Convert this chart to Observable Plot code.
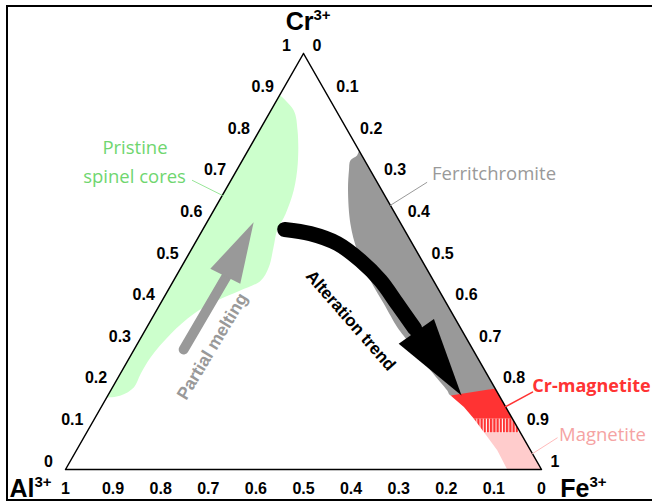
<!DOCTYPE html>
<html><head><meta charset="utf-8">
<script src="https://cdn.jsdelivr.net/npm/d3@7"></script>
<script src="https://cdn.jsdelivr.net/npm/@observablehq/plot@0.6"></script>
<style>
body{margin:0;background:#fff}
#wrap{position:relative;width:652px;height:504px;overflow:hidden;background:#fff}
#frame{position:absolute;left:6px;top:5px;width:700px;height:496px;border:2px solid #000;box-sizing:border-box;pointer-events:none}
svg{position:absolute;left:0;top:0}
</style>
</head><body><div id="wrap"><div id="frame"></div></div>
<script>
// Ternary points as [Cr, Fe]; Al = 1 - Cr - Fe
const triangle = [[1,0],[0,0],[0,1],[1,0]];
const tickValues = [0,0.1,0.2,0.3,0.4,0.5,0.6,0.7,0.8,0.9,1];

const pristineCores = [[0.900,0.000],[0.863,0.048],[0.815,0.080],[0.736,0.120],[0.671,0.144],[0.615,0.155],[0.575,0.157],[0.534,0.170],[0.486,0.184],[0.454,0.183],[0.430,0.152],[0.406,0.116],[0.374,0.082],[0.326,0.058],[0.270,0.044],[0.230,0.043],[0.198,0.045],[0.178,0.027],[0.173,0.000]];
const ferritchromite = [[0.767,0.233],[0.755,0.235],[0.743,0.227],[0.719,0.236],[0.671,0.258],[0.591,0.303],[0.526,0.350],[0.454,0.414],[0.399,0.469],[0.342,0.526],[0.322,0.549],[0.238,0.648],[0.190,0.707],[0.178,0.720],[0.195,0.805]];
const crMagnetite = [[0.178,0.720],[0.195,0.805],[0.122,0.878],[0.122,0.797],[0.150,0.762]];
const transition = [[0.122,0.797],[0.122,0.878],[0.089,0.911],[0.089,0.835]];
const magnetite = [[0.089,0.835],[0.089,0.911],[0,1],[0,0.928],[0.046,0.884]];

const alterationShaft = [[0.577,0.172],[0.567,0.231],[0.543,0.300],[0.502,0.369],[0.454,0.435],[0.398,0.498],[0.339,0.564]];
const alterationHead = [[0.302,0.549],[0.362,0.593],[0.178,0.743]];
const meltingShaft = [[0.2885,0.104],[0.464,0.106]];
const meltingHead = [[0.4825,0.063],[0.4464,0.144],[0.5945,0.098]];

const greenLeader = [[0.695,-0.081],[0.659,0.000]];
const grayLeader = [[0.690,0.414],[0.635,0.365]];
const redLeader = [[0.186,0.888],[0.151,0.849]];
const pinkLeader = [[0.076,0.995],[0.038,0.962]];

const pristineLabel = [[0.772,-0.240,"Pristine"],[0.704,-0.207,"spinel cores"]];
const ferriLabel = [[0.710,0.415,"Ferritchromite"]];
const crMagLabel = [[0.1995,0.881,"Cr-magnetite"]];
const magLabel = [[0.0837,0.995,"Magnetite"]];
const alterationLabel = [[0.358,0.420,"Alteration trend"]];
const meltingLabel = [[0.2957,0.161,"Partial melting"]];

const cornerLabels = ["Cr","Al","Fe"];
const cornerSup = "3+";

const X = d => d[1] + d[0] / 2;
const Y = d => d[0];
const fmt = v => String(v);

const leftTicks = tickValues.map(v => [v, 0, fmt(v)]);
const rightTicks = tickValues.map(v => [1 - v, v, fmt(v)]);
const bottomTicks = tickValues.map(v => [0, 1 - v, fmt(v)]);

const sans = "'Liberation Sans', Arial, sans-serif";
const soft = "'Open Sans', sans-serif";

const poly = (data, fill, curve="linear") => Plot.line(data, {x: X, y: Y, fill, stroke: "none", curve});
const leader = (data, stroke, w=1) => Plot.line(data, {x: X, y: Y, stroke, strokeWidth: w});
const label = (data, o) => Plot.text(data, {x: X, y: Y, text: d => d[2], ...o});

const chart = Plot.plot({
  width: 652, height: 504,
  marginLeft: 65, marginRight: 111, marginTop: 53, marginBottom: 35,
  x: {domain: [0, 1], axis: null},
  y: {domain: [0, 1], axis: null},
  style: {background: "transparent", overflow: "visible"},
  marks: [
    poly(pristineCores, "#ccffcc", "catmull-rom"),
    poly(ferritchromite, "#999999", "catmull-rom"),
    poly(crMagnetite, "#ff3333"),
    poly(transition, "url(#hatch)"),
    poly(magnetite, "#ffcccc"),
    Plot.line(triangle, {x: X, y: Y, stroke: "#000", strokeWidth: 1.5}),
    Plot.line(alterationShaft, {x: X, y: Y, stroke: "#000", strokeWidth: 15, strokeLinecap: "round", curve: "catmull-rom"}),
    poly(alterationHead, "#000"),
    Plot.line(meltingShaft, {x: X, y: Y, stroke: "#999999", strokeWidth: 10, strokeLinecap: "round"}),
    poly(meltingHead, "#999999"),
    leader(greenLeader, "#99e699"),
    leader(grayLeader, "#999999"),
    leader(redLeader, "#ff3333", 1.5),
    leader(pinkLeader, "#ffbbbb"),
    label(leftTicks, {fontFamily: sans, fontWeight: "bold", fontSize: 16, fill: "#000", dx: -17, dy: -8}),
    label(rightTicks, {fontFamily: sans, fontWeight: "bold", fontSize: 16, fill: "#000", textAnchor: "start", dx: 9, dy: -8}),
    label(bottomTicks, {fontFamily: sans, fontWeight: "bold", fontSize: 16, fill: "#000", dy: 19}),
    label(pristineLabel, {fontFamily: soft, fontSize: 18.5, fill: "#6fd66f"}),
    label(ferriLabel, {fontFamily: soft, fontSize: 18.5, fill: "#999999", textAnchor: "start"}),
    label(crMagLabel, {fontFamily: soft, fontSize: 18, fontWeight: "bold", fill: "#ff3333", textAnchor: "start"}),
    label(magLabel, {fontFamily: soft, fontSize: 18.5, fill: "#f5a3a3", textAnchor: "start"}),
    label(alterationLabel, {fontFamily: sans, fontSize: 17, fontWeight: "bold", fill: "#000", rotate: 49}),
    label(meltingLabel, {fontFamily: sans, fontSize: 17.5, fontWeight: "bold", fill: "#999999", rotate: -59}),
    // corner labels
    Plot.text([[1,0,cornerLabels[0]]], {x: X, y: Y, text: d => d[2], fontFamily: sans, fontWeight: "bold", fontSize: 25, textAnchor: "end", dx: 10, dy: -32}),
    Plot.text([[1,0,cornerSup]], {x: X, y: Y, text: d => d[2], fontFamily: sans, fontWeight: "bold", fontSize: 15, textAnchor: "start", dx: 10, dy: -38}),
    Plot.text([[0,0,cornerLabels[1]]], {x: X, y: Y, text: d => d[2], fontFamily: sans, fontWeight: "bold", fontSize: 25, textAnchor: "end", dx: -31, dy: 19}),
    Plot.text([[0,0,cornerSup]], {x: X, y: Y, text: d => d[2], fontFamily: sans, fontWeight: "bold", fontSize: 15, textAnchor: "start", dx: -31, dy: 13}),
    Plot.text([[0,1,cornerLabels[2]]], {x: X, y: Y, text: d => d[2], fontFamily: sans, fontWeight: "bold", fontSize: 25, textAnchor: "end", dx: 48, dy: 19}),
    Plot.text([[0,1,cornerSup]], {x: X, y: Y, text: d => d[2], fontFamily: sans, fontWeight: "bold", fontSize: 15, textAnchor: "start", dx: 48, dy: 13})
  ]
});

const defs = d3.select(chart).insert("defs", ":first-child");
const pat = defs.append("pattern").attr("id", "hatch").attr("patternUnits", "userSpaceOnUse").attr("width", 3.2).attr("height", 20);
pat.append("rect").attr("width", 3.2).attr("height", 20).attr("fill", "#ff3333");
pat.append("rect").attr("x", 2.2).attr("width", 1).attr("height", 20).attr("fill", "#fff2f2");

const wrap = document.getElementById("wrap");
wrap.insertBefore(chart, document.getElementById("frame"));
</script>
</body></html>
